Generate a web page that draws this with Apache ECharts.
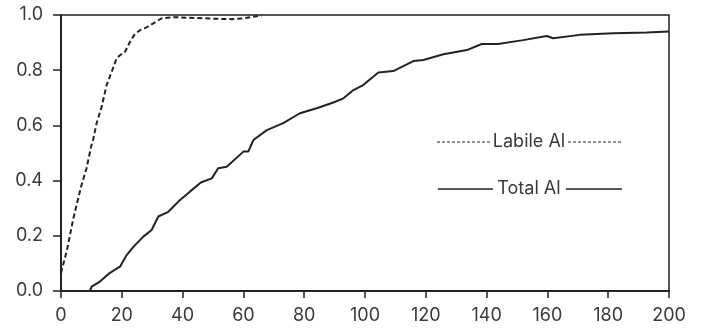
<!DOCTYPE html>
<html>
<head>
<meta charset="utf-8">
<script src="https://cdn.jsdelivr.net/npm/echarts@6/dist/echarts.min.js"></script>
<style>
  html, body { margin: 0; padding: 0; background: #fff; }
  #chart { width: 701px; height: 328px; }
</style>
</head>
<body>
<div id="chart"></div>
<script>
// Fraction of aluminium released over time
const labileTime = [0, 2, 4, 6.6, 8.4, 9.9, 10.6, 11.7, 13.4, 15, 16.7, 18.3, 19.5, 21.1, 22.7, 24.3, 26, 27.6, 30.4, 33.1, 37.5, 42, 47.4, 52, 56, 60, 63, 66];
const labileFrac = [0.065, 0.15, 0.26, 0.378, 0.445, 0.523, 0.55, 0.607, 0.668, 0.746, 0.795, 0.843, 0.855, 0.867, 0.903, 0.931, 0.945, 0.952, 0.97, 0.988, 0.992, 0.99, 0.988, 0.986, 0.985, 0.988, 0.993, 0.998];

const totalTime = [9.5, 10.1, 12.8, 16.1, 19.4, 21.6, 23.8, 27.1, 29.8, 32, 35.3, 38.6, 42.4, 46, 49.6, 51.7, 54.5, 60, 61.6, 63.3, 67.7, 73.1, 78.6, 84.1, 89.6, 92.9, 96.2, 99.4, 104.4, 109.3, 115.9, 119.2, 125.8, 133.5, 138.4, 143.8, 152, 159.8, 161.9, 170.7, 181.7, 192.7, 200];
const totalFrac = [0.0, 0.016, 0.034, 0.066, 0.088, 0.13, 0.16, 0.197, 0.221, 0.27, 0.287, 0.324, 0.36, 0.393, 0.408, 0.445, 0.45, 0.505, 0.505, 0.547, 0.583, 0.608, 0.644, 0.662, 0.683, 0.698, 0.728, 0.746, 0.792, 0.797, 0.833, 0.837, 0.858, 0.873, 0.895, 0.895, 0.909, 0.924, 0.916, 0.928, 0.934, 0.937, 0.94];

const xTicks = { min: 0, max: 200, step: 20 };
const yTicks = { min: 0, max: 1, step: 0.2 };

const legendLabels = ['Labile Al', 'Total Al'];

const pairs = (xs, ys) => xs.map((x, i) => [x, ys[i]]);

const ink = '#222';
const textInk = '#3a3a3a';
const fontFamily = 'Inter, Liberation Sans, Arial, sans-serif';

const chart = echarts.init(document.getElementById('chart'));
chart.setOption({
  animation: false,
  backgroundColor: '#fff',
  grid: {
    left: 61, right: 32, top: 15, bottom: 37,
    show: true, borderColor: ink, borderWidth: 1.5
  },
  xAxis: {
    type: 'value',
    min: xTicks.min, max: xTicks.max, interval: xTicks.step,
    axisLine: { show: true, lineStyle: { color: ink, width: 2 } },
    axisTick: { show: true, inside: false, length: 7, lineStyle: { color: ink, width: 1.5 } },
    axisLabel: { color: textInk, fontSize: 18, fontFamily: fontFamily, margin: 16 },
    splitLine: { show: false }
  },
  yAxis: {
    type: 'value',
    min: yTicks.min, max: yTicks.max, interval: yTicks.step,
    axisLine: { show: true, lineStyle: { color: ink, width: 2 } },
    axisTick: { show: true, inside: false, length: 8, lineStyle: { color: ink, width: 1.5 } },
    axisLabel: {
      color: textInk, fontSize: 18, fontFamily: fontFamily, margin: 18,
      formatter: v => v.toFixed(1)
    },
    splitLine: { show: false }
  },
  series: [
    {
      name: legendLabels[0],
      type: 'line',
      data: pairs(labileTime, labileFrac),
      showSymbol: false,
      lineStyle: { color: ink, width: 2, type: [5, 3] }
    },
    {
      name: legendLabels[1],
      type: 'line',
      data: pairs(totalTime, totalFrac),
      showSymbol: false,
      lineStyle: { color: ink, width: 2 }
    }
  ],
  graphic: [
    { type: 'line', shape: { x1: 437, y1: 142, x2: 490, y2: 142 }, style: { stroke: ink, lineWidth: 1.2, lineDash: [3, 2] } },
    { type: 'text', x: 529, y: 142, style: { text: legendLabels[0], fill: textInk, font: '18px ' + fontFamily, textAlign: 'center', textVerticalAlign: 'middle' } },
    { type: 'line', shape: { x1: 568, y1: 142, x2: 623, y2: 142 }, style: { stroke: ink, lineWidth: 1.2, lineDash: [3, 2] } },
    { type: 'line', shape: { x1: 438, y1: 189, x2: 493, y2: 189 }, style: { stroke: ink, lineWidth: 1.4 } },
    { type: 'text', x: 529, y: 189, style: { text: legendLabels[1], fill: textInk, font: '18px ' + fontFamily, textAlign: 'center', textVerticalAlign: 'middle' } },
    { type: 'line', shape: { x1: 566, y1: 189, x2: 622, y2: 189 }, style: { stroke: ink, lineWidth: 1.4 } }
  ]
});
</script>
</body>
</html>
